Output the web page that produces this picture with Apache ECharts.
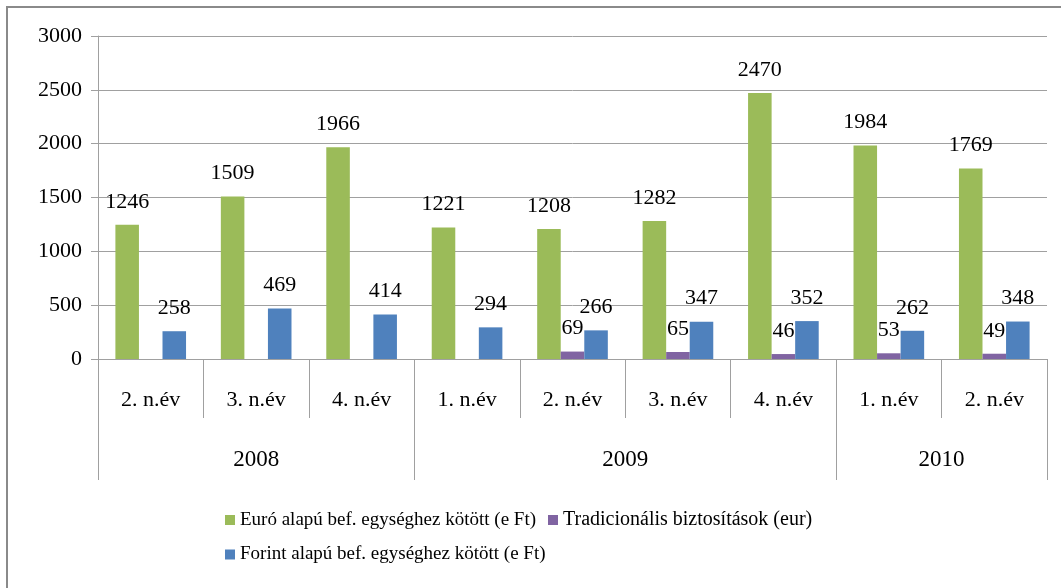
<!DOCTYPE html>
<html>
<head>
<meta charset="utf-8">
<script src="https://cdn.jsdelivr.net/npm/echarts@6/dist/echarts.min.js"></script>
<style>
html,body{margin:0;padding:0;background:#fff;}
#chart{width:1061px;height:588px;}
</style>
</head>
<body>
<div id="chart"></div>
<script>
const categories = ['2. n.év','3. n.év','4. n.év','1. n.év','2. n.év','3. n.év','4. n.év','1. n.év','2. n.év'];
const years = ['2008','2009','2010'];
const yearSpans = [3, 4, 2];
const seriesNames = [
  'Euró alapú bef. egységhez kötött (e Ft)',
  'Tradicionális biztosítások (eur)',
  'Forint alapú bef. egységhez kötött (e Ft)'
];
const euroValues = [1246, 1509, 1966, 1221, 1208, 1282, 2470, 1984, 1769];
const tradValues = [null, null, null, null, 69, 65, 46, 53, 49];
const forintValues = [258, 469, 414, 294, 266, 347, 352, 262, 348];
const yTicks = [0, 500, 1000, 1500, 2000, 2500, 3000];

const boundaries = [0];
yearSpans.forEach(s => boundaries.push(boundaries[boundaries.length - 1] + s));
const yearCenters = yearSpans.map((s, i) => boundaries[i] + s / 2);

const FONT = '"Liberation Serif", "Times New Roman", serif';
const colors = ['#9BBB59', '#8064A2', '#4F81BD'];

const chart = echarts.init(document.getElementById('chart'));
const labelStyle = {
  show: true, position: 'top', distance: 12,
  fontFamily: FONT, fontSize: 22, color: '#000'
};
const legendText = { fontFamily: FONT, fontSize: 19, color: '#000' };
chart.setOption({
  animation: false,
  backgroundColor: '#fff',
  graphic: [{
    type: 'rect', shape: { x: 7, y: 7, width: 1100, height: 700 },
    style: { fill: 'none', stroke: '#8a8a8a', lineWidth: 2 }, silent: true
  }],
  grid: { left: 98, right: 14, top: 36, bottom: 229 },
  legend: [{
    data: [
      { name: seriesNames[0] },
      { name: seriesNames[1], textStyle: { fontSize: 20 } }
    ],
    left: 220, top: 505, itemGap: 12, icon: 'rect', itemWidth: 10, itemHeight: 10,
    textStyle: legendText
  }, {
    data: [seriesNames[2]],
    left: 220, top: 540, icon: 'rect', itemWidth: 10, itemHeight: 10,
    textStyle: legendText
  }],
  xAxis: [{
    type: 'category', data: categories, position: 'bottom',
    axisLine: { lineStyle: { color: '#a0a0a0', width: 1 } },
    axisTick: { show: true, length: 59, lineStyle: { color: '#a0a0a0' } },
    axisLabel: { margin: 30, fontFamily: FONT, fontSize: 22, color: '#000' }
  }, {
    type: 'value', min: 0, max: boundaries[boundaries.length - 1], position: 'bottom',
    axisLine: { show: false },
    splitLine: { show: false },
    axisTick: { show: true, length: 121, customValues: boundaries, lineStyle: { color: '#a0a0a0' } },
    axisLabel: {
      margin: 89, fontFamily: FONT, fontSize: 23, color: '#000',
      customValues: yearCenters,
      formatter: v => { const i = yearCenters.indexOf(v); return i >= 0 ? years[i] : ''; }
    }
  }],
  yAxis: {
    type: 'value', min: yTicks[0], max: yTicks[yTicks.length - 1], interval: 500,
    axisLine: { show: true, lineStyle: { color: '#a0a0a0' } },
    axisTick: { show: true, length: 7, lineStyle: { color: '#a0a0a0' } },
    splitLine: { lineStyle: { color: '#a0a0a0' } },
    axisLabel: { margin: 16, fontFamily: FONT, fontSize: 22, color: '#000', formatter: v => String(v) }
  },
  series: [
    { name: seriesNames[0], type: 'bar', data: euroValues, xAxisIndex: 0,
      itemStyle: { color: colors[0] }, barGap: 0, barCategoryGap: '33%', label: labelStyle },
    { name: seriesNames[1], type: 'bar', data: tradValues, xAxisIndex: 0,
      itemStyle: { color: colors[1] }, barGap: 0, barCategoryGap: '33%', label: labelStyle },
    { name: seriesNames[2], type: 'bar', data: forintValues, xAxisIndex: 0,
      itemStyle: { color: colors[2] }, barGap: 0, barCategoryGap: '33%', label: labelStyle }
  ]
});
</script>
</body>
</html>
